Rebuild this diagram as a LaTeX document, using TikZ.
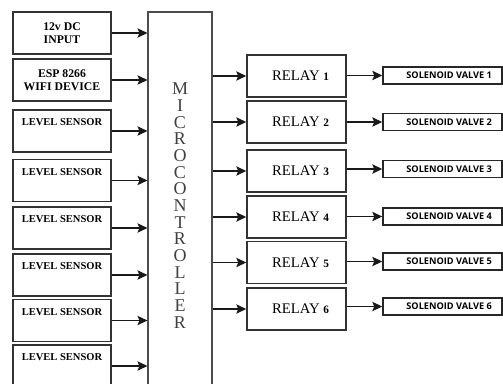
\documentclass[tikz,border=0pt]{standalone}
\usepackage{fontspec}
\setmainfont{Liberation Serif}
\newfontfamily\valvefont{Open Sans}
\usepackage{tikz}
\usetikzlibrary{arrows.meta}
\tikzstyle{inbox} = [draw=black!80, line width=1.2pt, rectangle, minimum width=73.5pt, minimum height=31.5pt, align=center, font=\bfseries\fontsize{8.8}{9.75}\selectfont]
\tikzstyle{sensorbox} = [inbox, inner ysep=6.4pt, text height=5.3pt, text depth=13.4pt, font=\bfseries\fontsize{7.9}{9}\selectfont]
\tikzstyle{ctrlbox} = [draw=black!70, line width=0.8pt, rectangle, minimum width=48pt, minimum height=290.25pt, align=center, text=black!75, font=\fontsize{13.5}{12.5}\selectfont]
\tikzstyle{relaybox} = [draw=black!80, line width=1.1pt, rectangle, minimum width=74.25pt, minimum height=31.5pt, font=\fontsize{11}{13}\selectfont]
\tikzstyle{valvebox} = [draw=black!85, line width=1.1pt, rectangle, minimum width=89.25pt, minimum height=12.75pt, inner sep=0pt, font=\valvefont\bfseries\fontsize{6.9}{8}\selectfont]
\tikzstyle{link} = [draw=black!90, line width=0.9pt, -{Stealth[length=7.5pt,width=7pt,inset=1.5pt]}]
\newcommand{\relaynum}[1]{{\bfseries\fontsize{8.5}{10}\selectfont #1}}

\begin{document}
\begin{tikzpicture}[x=0.75pt, y=-0.75pt]
\useasboundingbox (0,0) rectangle (503,383);
% inputs
\node[inbox] (dc) at (62,33) {12v DC\\INPUT};
\node[inbox] (esp) at (62,80) {ESP 8266\\WIFI DEVICE};
\node[sensorbox] (lvla) at (62,131) {LEVEL SENSOR};
\node[sensorbox] (lvlb) at (62,180.5) {LEVEL SENSOR};
\node[sensorbox] (lvlc) at (62,228) {LEVEL SENSOR};
\node[sensorbox] (lvld) at (62,275) {LEVEL SENSOR};
\node[sensorbox] (lvle) at (62,320.5) {LEVEL SENSOR};
\node[sensorbox] (lvlf) at (62,366) {LEVEL SENSOR};
% controller
\node[ctrlbox] (mcu) at (180,205.5) {M\\I\\C\\R\\O\\C\\O\\N\\T\\R\\O\\L\\L\\E\\R};
% relays
\node[relaybox] (rla) at (296.5,76) {\hspace{6pt}RELAY \relaynum{1}};
\node[relaybox] (rlb) at (296.5,122) {\hspace{6pt}RELAY \relaynum{2}};
\node[relaybox] (rlc) at (296.5,171) {\hspace{6pt}RELAY \relaynum{3}};
\node[relaybox] (rld) at (296.5,217) {\hspace{6pt}RELAY \relaynum{4}};
\node[relaybox] (rle) at (296.5,262.5) {\hspace{6pt}RELAY \relaynum{5}};
\node[relaybox] (rlf) at (296.5,309) {\hspace{6pt}RELAY \relaynum{6}};
% valves
\node[valvebox] (sva) at (442.5,75.5) {\hspace{10pt}SOLENOID VALVE 1};
\node[valvebox] (svb) at (442.5,122) {\hspace{10pt}SOLENOID VALVE 2};
\node[valvebox] (svc) at (442.5,169) {\hspace{10pt}SOLENOID VALVE 3};
\node[valvebox] (svd) at (442.5,216.5) {\hspace{10pt}SOLENOID VALVE 4};
\node[valvebox] (sve) at (442.5,261.5) {\hspace{10pt}SOLENOID VALVE 5};
\node[valvebox] (svf) at (442.5,306.5) {\hspace{10pt}SOLENOID VALVE 6};
% inputs to controller
\draw[link] (dc.east) -- (dc.east -| mcu.west);
\draw[link] (esp.east) -- (esp.east -| mcu.west);
\draw[link] (lvla.east) -- (lvla.east -| mcu.west);
\draw[link] (lvlb.east) -- (lvlb.east -| mcu.west);
\draw[link] (lvlc.east) -- (lvlc.east -| mcu.west);
\draw[link] (lvld.east) -- (lvld.east -| mcu.west);
\draw[link] (lvle.east) -- (lvle.east -| mcu.west);
\draw[link] (lvlf.east) -- (lvlf.east -| mcu.west);
% controller to relays
\draw[link] (rla.west -| mcu.east) -- (rla.west);
\draw[link] (rlb.west -| mcu.east) -- (rlb.west);
\draw[link] (rlc.west -| mcu.east) -- (rlc.west);
\draw[link] (rld.west -| mcu.east) -- (rld.west);
\draw[link] (rle.west -| mcu.east) -- (rle.west);
\draw[link] (rlf.west -| mcu.east) -- (rlf.west);
% relays to valves
\draw[link] (sva.west -| rla.east) -- (sva.west);
\draw[link] (svb.west -| rlb.east) -- (svb.west);
\draw[link] (svc.west -| rlc.east) -- (svc.west);
\draw[link] (svd.west -| rld.east) -- (svd.west);
\draw[link] (sve.west -| rle.east) -- (sve.west);
\draw[link] (svf.west -| rlf.east) -- (svf.west);
\end{tikzpicture}
\end{document}
